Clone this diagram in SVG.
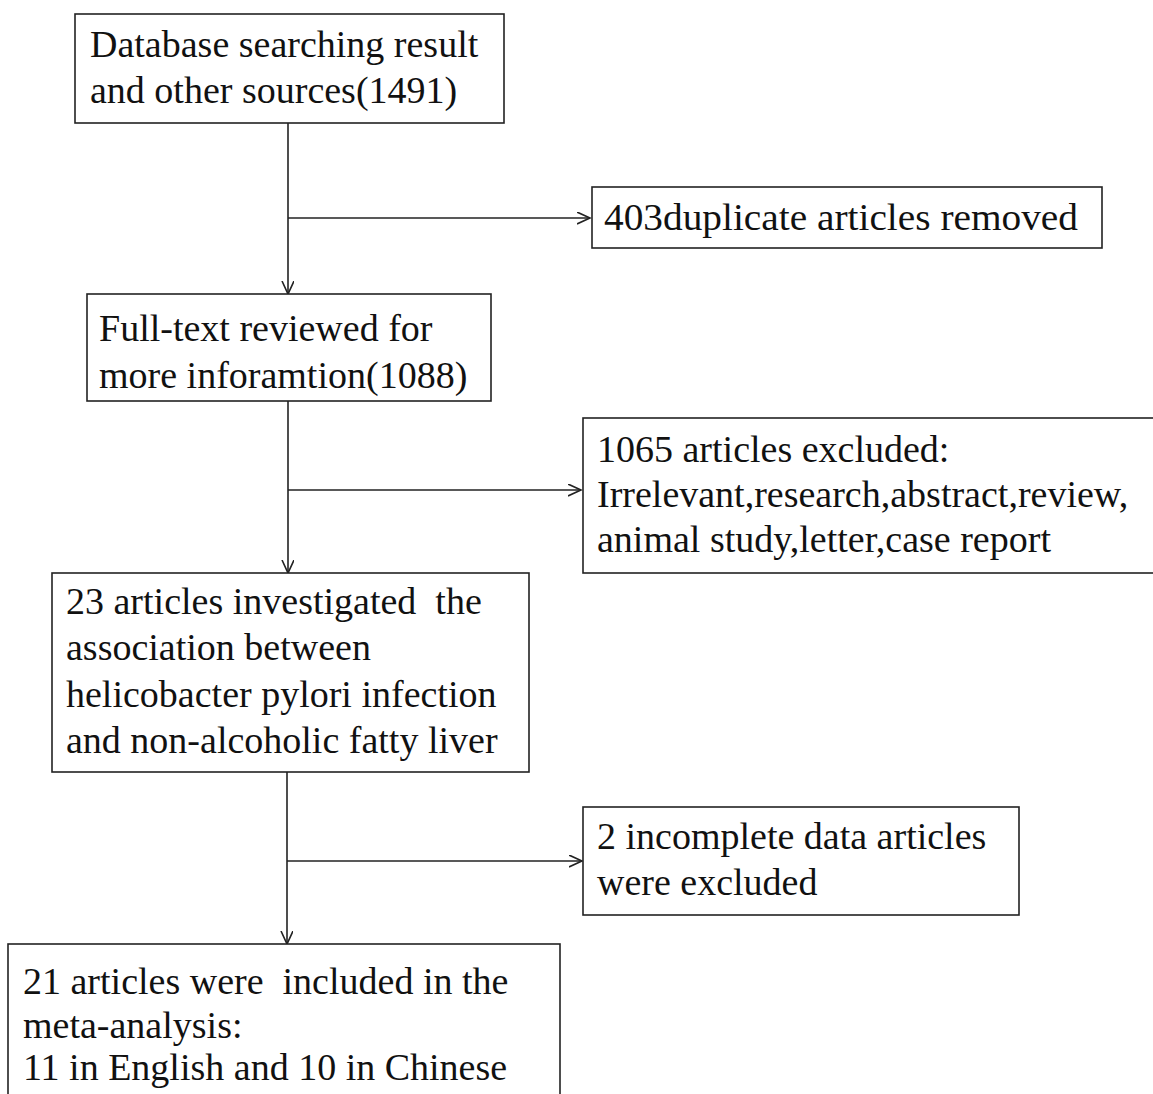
<svg xmlns="http://www.w3.org/2000/svg" width="1153" height="1094" viewBox="0 0 1153 1094">
  <style>
    .box { fill: #ffffff; stroke: #222222; stroke-width: 1.6; }
    .t { font-family: "Liberation Serif", "Times New Roman", serif; font-size: 38px; fill: #111111; white-space: pre; }
    .c { stroke: #222222; stroke-width: 1.6; fill: none; marker-end: url(#arr); }
  </style>
  <defs>
    <marker id="arr" markerUnits="userSpaceOnUse" markerWidth="16" markerHeight="16" refX="13" refY="6" orient="auto">
      <path d="M0,0 L13,6 L0,12" fill="none" stroke="#222222" stroke-width="1.6"/>
    </marker>
  </defs>
  <rect width="1153" height="1094" fill="#ffffff"/>

  <g id="connectors">
    <line class="c" x1="288" y1="123" x2="288" y2="294"/>
    <line class="c" x1="288" y1="218" x2="590" y2="218"/>
    <line class="c" x1="288" y1="401" x2="288" y2="573"/>
    <line class="c" x1="288" y1="490" x2="581" y2="490"/>
    <line class="c" x1="287" y1="772" x2="287" y2="944"/>
    <line class="c" x1="287" y1="861" x2="582" y2="861"/>
  </g>

  <g id="n1">
    <rect class="box" x="75" y="14" width="429" height="109"/>
    <text class="t" x="90" y="57">Database searching result</text>
    <text class="t" x="90" y="103">and other sources(1491)</text>
  </g>

  <g id="n2">
    <rect class="box" x="592" y="187" width="510" height="61"/>
    <text class="t" x="604" y="230" textLength="474" lengthAdjust="spacingAndGlyphs">403duplicate articles removed</text>
  </g>

  <g id="n3">
    <rect class="box" x="87" y="294" width="404" height="107"/>
    <text class="t" x="99" y="341">Full-text reviewed for</text>
    <text class="t" x="99" y="388">more inforamtion(1088)</text>
  </g>

  <g id="n4">
    <rect class="box" x="583" y="418" width="580" height="155"/>
    <text class="t" x="597" y="462">1065 articles excluded:</text>
    <text class="t" x="597" y="507">Irrelevant,research,abstract,review,</text>
    <text class="t" x="597" y="552">animal study,letter,case report</text>
  </g>

  <g id="n5">
    <rect class="box" x="52" y="573" width="477" height="199"/>
    <text class="t" x="66" y="614" xml:space="preserve">23 articles investigated  the</text>
    <text class="t" x="66" y="660">association between</text>
    <text class="t" x="66" y="707">helicobacter pylori infection</text>
    <text class="t" x="66" y="753">and non-alcoholic fatty liver</text>
  </g>

  <g id="n6">
    <rect class="box" x="583" y="807" width="436" height="108"/>
    <text class="t" x="597" y="849">2 incomplete data articles</text>
    <text class="t" x="597" y="895">were excluded</text>
  </g>

  <g id="n7">
    <rect class="box" x="8" y="944" width="552" height="170"/>
    <text class="t" x="23" y="994" xml:space="preserve">21 articles were  included in the</text>
    <text class="t" x="23" y="1038">meta-analysis:</text>
    <text class="t" x="23" y="1080">11 in English and 10 in Chinese</text>
  </g>
</svg>
